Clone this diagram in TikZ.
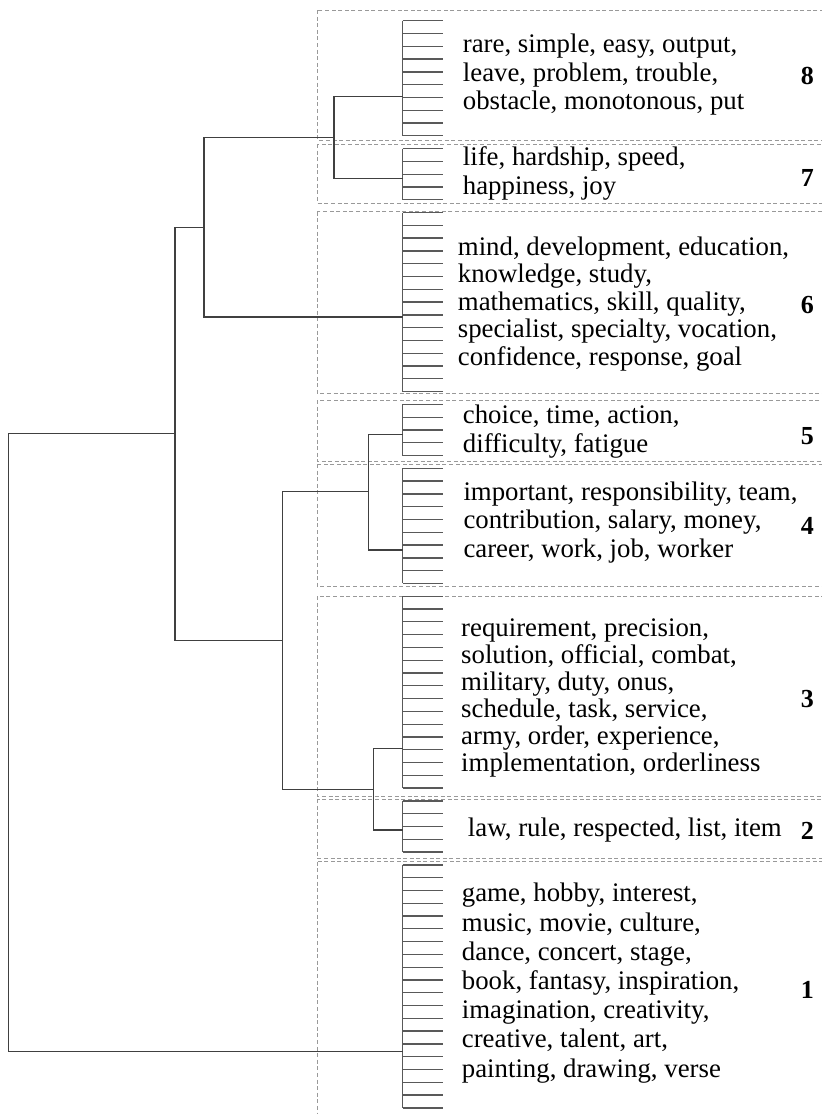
\documentclass[tikz,border=0pt]{standalone}
\usepackage{fontspec}
\setmainfont{Liberation Serif}
\begin{document}
\begin{tikzpicture}[x=1pt, y=-1pt,
  tree/.style={draw=black!75, line width=1.4pt},
  leaf/.style={draw=black!65, line width=1.3pt},
  box/.style={draw=black!40, line width=0.9pt, dash pattern=on 4pt off 2.6pt},
  words/.style={anchor=west, inner sep=0pt, align=left, font=\fontsize{26.8}{28.5}\selectfont},
  num/.style={anchor=east, inner sep=0pt, font=\fontsize{26}{26}\selectfont\bfseries}]
\clip (0,0) rectangle (822,1114);
\foreach \top/\bot in {10/140, 144/203, 211.7/393.5, 400/461.7, 464/586.7, 596/796, 799/858.3, 861.7/1120}
  \draw[box] (317.3,\top) rectangle (830,\bot);
\foreach \first/\last in {0/9, 10/14, 15/29, 30/34, 35/44, 45/60, 61/65, 66/85}
  \draw[leaf] (402.7,20.7+12.79*\first) -- (402.7,20.7+12.79*\last);
\foreach \i in {0,...,85}
  \draw[leaf] (402.7,20.7+12.79*\i) -- ++(40.6,0);
\coordinate (c8) at (402.7,96.7);
\coordinate (c7) at (402.7,178.3);
\coordinate (c6) at (402.7,317);
\coordinate (c5) at (402.7,434.3);
\coordinate (c4) at (402.7,550);
\coordinate (c3) at (402.7,748.3);
\coordinate (c2) at (402.7,830);
\coordinate (c1) at (402.7,1051.7);
\coordinate (m87) at (334,137.7);
\coordinate (m876) at (204,227.3);
\coordinate (m54) at (368.3,491.7);
\coordinate (m32) at (373.7,789.3);
\coordinate (m5432) at (282.7,640.7);
\coordinate (m8765432) at (175,433.3);
\coordinate (root) at (8.3,433.3);
\draw[tree] (c8) -| (m87) |- (c7);
\draw[tree] (m87) -| (m876) |- (c6);
\draw[tree] (c5) -| (m54) |- (c4);
\draw[tree] (c3) -| (m32) |- (c2);
\draw[tree] (m54) -| (m5432) |- (m32);
\draw[tree] (m876) -| (m8765432) |- (m5432);
\draw[tree] (m8765432) -- (root) |- (c1);
\node[words] (words8) at (462.7,74.7) {rare, simple, easy, output,\\leave, problem, trouble,\\obstacle, monotonous, put};
\node[words] (words7) at (462.7,173.5) {life, hardship, speed,\\happiness, joy};
\node[words, font=\fontsize{26.8}{27.5}\selectfont] (words6) at (457.7,304) {mind, development, education,\\knowledge, study,\\mathematics, skill, quality,\\specialist, specialty, vocation,\\confidence, response, goal};
\node[words] (words5) at (462.7,431.5) {choice, time, action,\\difficulty, fatigue};
\node[words] (words4) at (463.3,522.2) {important, responsibility, team,\\contribution, salary, money,\\career, work, job, worker};
\node[words, font=\fontsize{26.8}{27}\selectfont] (words3) at (461,698) {requirement, precision,\\solution, official, combat,\\military, duty, onus,\\schedule, task, service,\\army, order, experience,\\implementation, orderliness};
\node[words] (words2) at (467.7,830.5) {law, rule, respected, list, item};
\node[words, font=\fontsize{26.8}{29.2}\selectfont] (words1) at (461.7,983) {game, hobby, interest,\\music, movie, culture,\\dance, concert, stage,\\book, fantasy, inspiration,\\imagination, creativity,\\creative, talent, art,\\painting, drawing, verse};
\node[num] (num8) at (814,75.5) {8};
\node[num] (num7) at (814,178) {7};
\node[num] (num6) at (814,305) {6};
\node[num] (num5) at (814,436.5) {5};
\node[num] (num4) at (814,526) {4};
\node[num] (num3) at (814,699.5) {3};
\node[num] (num2) at (814,830.5) {2};
\node[num] (num1) at (814,990) {1};
\end{tikzpicture}
\end{document}
